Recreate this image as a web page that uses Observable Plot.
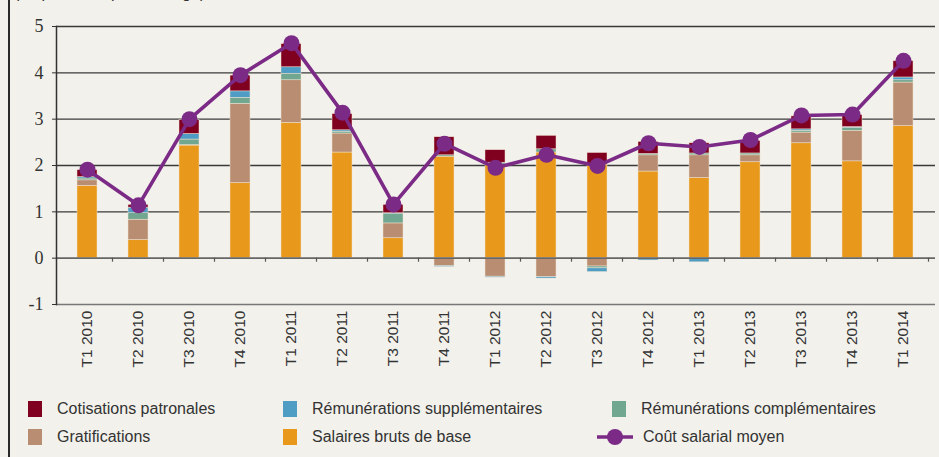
<!DOCTYPE html>
<html><head><meta charset="utf-8">
<script src="https://cdn.jsdelivr.net/npm/d3@7"></script>
<script src="https://cdn.jsdelivr.net/npm/@observablehq/plot@0.6"></script>
<style>
html,body{margin:0;padding:0;background:#f2f1eb;}
#wrap{position:relative;width:939px;height:457px;overflow:hidden;background:#f2f1eb;}
#border{position:absolute;left:8px;top:0;width:2px;height:457px;background:#2a2a2a;}
#title{position:absolute;left:14px;top:-15px;font:16px "Liberation Sans",sans-serif;color:#333;line-height:16px;white-space:nowrap;}
#chart{position:absolute;left:0;top:0;}
.leg{position:absolute;height:18px;display:flex;align-items:center;font:16px "Liberation Sans",sans-serif;color:#333;white-space:nowrap;}
.sw{display:inline-block;width:14px;height:16px;margin-right:15px;}
</style>
</head><body>
<div id="wrap">
  <div id="title">(en points de pourcentage)</div>
  <div id="chart"></div>
  <div id="legend"></div>
  <div id="border"></div>
</div>
<script>
const quarters = ["T1 2010","T2 2010","T3 2010","T4 2010","T1 2011","T2 2011","T3 2011","T4 2011","T1 2012","T2 2012","T3 2012","T4 2012","T1 2013","T2 2013","T3 2013","T4 2013","T1 2014"];
const salaires        = [1.56, 0.39, 2.43, 1.62, 2.92, 2.28, 0.43, 2.19, 2.02, 2.28, 2.02, 1.87, 1.73, 2.07, 2.48, 2.09, 2.85];
const gratifications  = [0.12, 0.44, 0.01, 1.71, 0.92, 0.41, 0.32, -0.17, -0.40, -0.41, -0.18, 0.35, 0.49, 0.15, 0.23, 0.66, 0.94];
const complementaires = [0.04, 0.14, 0.12, 0.13, 0.14, 0.04, 0.20, 0.03, 0.04, 0.07, -0.04, 0.03, 0.04, 0.04, 0.04, 0.06, 0.05];
const supplementaires = [0.03, 0.12, 0.12, 0.14, 0.14, 0.03, 0.02, -0.02, -0.02, -0.03, -0.08, -0.05, -0.09, 0.00, 0.03, 0.02, 0.06];
const cotisations     = [0.15, 0.06, 0.30, 0.34, 0.50, 0.35, 0.18, 0.39, 0.27, 0.29, 0.25, 0.26, 0.22, 0.27, 0.28, 0.26, 0.35];
const coutSalarial    = [1.91, 1.14, 3.00, 3.95, 4.64, 3.14, 1.16, 2.47, 1.95, 2.23, 1.99, 2.48, 2.40, 2.55, 3.08, 3.10, 4.26];
const seriesNames  = ["Salaires bruts de base","Gratifications","Rémunérations complémentaires","Rémunérations supplémentaires","Cotisations patronales"];
const seriesColors = ["#e8991c","#b98d72","#71a690","#4f9cc4","#800020"];
const lineName  = "Coût salarial moyen";
const lineColor = "#7b2a86";
const yTicks = [-1,0,1,2,3,4,5];
const legendOrder = ["Cotisations patronales","Rémunérations supplémentaires","Rémunérations complémentaires","Gratifications","Salaires bruts de base",lineName];

const seriesValues = [salaires, gratifications, complementaires, supplementaires, cotisations];
const rows = seriesNames.flatMap((s,i) => quarters.map((q,j) => ({q, s, v: seriesValues[i][j]})));
const cout = quarters.map((q,i) => ({q, v: coutSalarial[i]}));

const chart = Plot.plot({
  width: 939, height: 380,
  marginLeft: 56, marginRight: 4, marginTop: 26, marginBottom: 76,
  style: {background: "transparent", fontFamily: "Liberation Sans", fontSize: "15.5px", color: "#333"},
  x: {domain: quarters, paddingInner: 0.6, paddingOuter: 0.3, label: null},
  y: {domain: [-1, 5], label: null},
  color: {domain: seriesNames, range: seriesColors},
  marks: [
    Plot.ruleY(yTicks.filter(d => d > 0), {stroke: "#3a3a3a", strokeWidth: 1.4}),
    Plot.ruleY(yTicks.filter(d => d < 0), {stroke: "#777", strokeWidth: 1.6}),
    Plot.barY(rows, {x: "q", y: "v", fill: "s", order: seriesNames, stroke: "#f3e6d2", strokeWidth: 0.6, strokeOpacity: 0.8}),
    Plot.ruleY(yTicks.filter(d => d === 0), {stroke: "#666", strokeWidth: 1.6}),
    Plot.line(cout, {x: "q", y: "v", stroke: lineColor, strokeWidth: 3.6}),
    Plot.dot(cout, {x: "q", y: "v", r: 8, fill: lineColor}),
    Plot.axisY({ticks: yTicks, tickSize: 4, tickPadding: 9, tickFormat: d => String(d), fontSize: 18, fontFamily: "Liberation Sans Narrow", stroke: "#333"}),
    Plot.axisX({tickSize: 0, tickRotate: -90, tickPadding: 6, fontSize: 15.5}),
    Plot.frame({anchor: "left", stroke: "#333", strokeWidth: 1.5})
  ]
});
document.getElementById("chart").appendChild(chart);

// small ticks at band boundaries below the zero line
const sx = chart.scale("x"), sy = chart.scale("y");
const y0 = sy.apply(0);
const svg = d3.select(chart.tagName.toLowerCase() === "svg" ? chart : chart.querySelector("svg"));
svg.append("g").selectAll("line").data(quarters).join("line")
  .attr("x1", q => sx.apply(q) + sx.bandwidth + (sx.step - sx.bandwidth) / 2)
  .attr("x2", q => sx.apply(q) + sx.bandwidth + (sx.step - sx.bandwidth) / 2)
  .attr("y1", y0).attr("y2", y0 + 4)
  .attr("stroke", "#555").attr("stroke-width", 1.2);

// legend
const colorOf = name => seriesColors[seriesNames.indexOf(name)];
const legLefts = [28, 283, 612];
const lineLeft = 597;
const legTops = [400, 428];
const legend = document.getElementById("legend");
legendOrder.forEach((name, i) => {
  const col = i % 3, row = Math.floor(i / 3);
  const item = document.createElement("div");
  item.className = "leg";
  item.style.top = legTops[row] + "px";
  if (name === lineName) {
    item.style.left = lineLeft + "px";
    item.innerHTML = `<svg width="36" height="18" style="margin-right:10px"><line x1="0" x2="36" y1="9" y2="9" stroke="${lineColor}" stroke-width="3.6"/><circle cx="18" cy="9" r="8" fill="${lineColor}"/></svg><span>${name}</span>`;
  } else {
    item.style.left = legLefts[col] + "px";
    item.innerHTML = `<span class="sw" style="background:${colorOf(name)}"></span><span>${name}</span>`;
  }
  legend.appendChild(item);
});
</script>
</body></html>
